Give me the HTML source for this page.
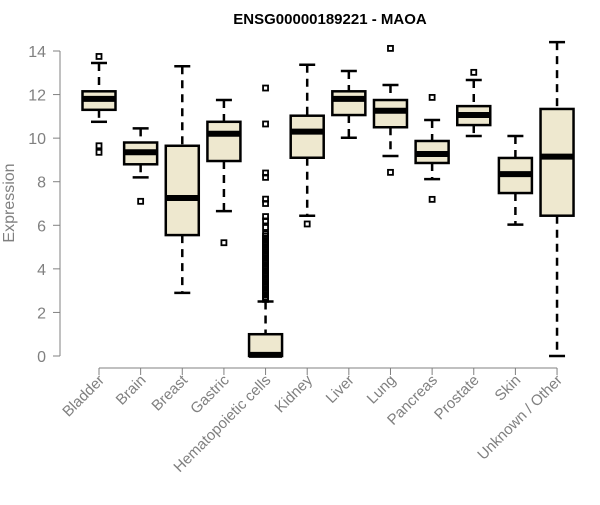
<!DOCTYPE html>
<html><head><meta charset="utf-8"><style>
body{margin:0;background:#fff}
svg text{font-family:"Liberation Sans",Arial,sans-serif}
</style></head><body>
<svg id="chart" width="600" height="500" xmlns="http://www.w3.org/2000/svg">
<text x="330" y="24" text-anchor="middle" font-size="15" font-weight="bold" fill="#000">ENSG00000189221 - MAOA</text>
<text transform="translate(14,203) rotate(-90)" text-anchor="middle" font-size="16" fill="#808080">Expression</text>
<g id="axes"></g><g id="boxes"></g>
</svg>
<script>
const categories=["Bladder","Brain","Breast","Gastric","Hematopoietic cells","Kidney","Liver","Lung","Pancreas","Prostate","Skin","Unknown / Other"];
const whiskerLow=[10.75,8.2,2.9,6.65,0,6.44,10.02,9.18,8.12,10.1,6.03,0];
const q1=[11.3,8.8,5.55,8.95,0,9.1,11.06,10.5,8.86,10.6,7.48,6.44];
const median=[11.8,9.35,7.25,10.2,0.05,10.3,11.8,11.26,9.27,11.06,8.35,9.15];
const q3=[12.15,9.8,9.65,10.75,1.0,11.03,12.15,11.75,9.87,11.47,9.09,11.34];
const whiskerHigh=[13.45,10.45,13.3,11.75,2.5,13.37,13.08,12.44,10.83,12.67,10.1,14.41];
const outliers=[[13.75,9.65,9.35],[7.1],[],[5.2],
 [12.3,10.65,8.4,8.2,7.2,7.0,6.4,6.2,5.9,5.6,5.5,5.4,5.3,5.2,5.1,5.0,4.9,4.8,4.7,4.6,4.5,4.4,4.3,4.2,4.1,4.0,3.9,3.8,3.7,3.6,3.5,3.4,3.3,3.2,3.1,3.0,2.9,2.8,2.7,2.6],
 [6.06],[],[14.12,8.43],[11.87,7.19],[13.02],[],[]];
const yTicks=[0,2,4,6,8,10,12,14];
const NS="http://www.w3.org/2000/svg";
const y=v=>356-v*(305/14);
const x=i=>99+i*41.64;
function mk(parent,tag,attrs){const e=document.createElementNS(NS,tag);for(const k in attrs)e.setAttribute(k,attrs[k]);parent.appendChild(e);return e;}
const axes=document.getElementById('axes'),boxes=document.getElementById('boxes');
let l=mk(axes,'line',{x1:60,x2:60,y1:y(14),y2:y(0),stroke:'#808080'});


yTicks.forEach(t=>{
 const tk=mk(axes,'line',{x1:53,x2:60,y1:y(t),y2:y(t),stroke:'#808080'});
 
 
 const tx=mk(axes,'text',{x:46,y:y(t)+6,'text-anchor':'end','font-size':16,fill:'#808080'});
 tx.textContent=t;
 
 
});
l=mk(axes,'line',{x1:x(0),x2:x(categories.length-1),y1:368,y2:368,stroke:'#808080'});


const hw=16.5;
categories.forEach((c,i)=>{
 const cx=x(i);
 const tk=mk(axes,'line',{x1:cx,x2:cx,y1:368,y2:375,stroke:'#808080'});
 
 
 const tx=mk(axes,'text',{'text-anchor':'end','font-size':15,fill:'#808080',transform:`translate(${cx+6},381) rotate(-45)`});
 tx.textContent=c;
 
 
 const g=mk(boxes,'g',{});
 
 
 mk(g,'line',{x1:cx,x2:cx,y1:y(whiskerHigh[i]),y2:y(q3[i]),stroke:'#000','stroke-width':2.5,'stroke-dasharray':'8,6'});
 mk(g,'line',{x1:cx,x2:cx,y1:y(q1[i]),y2:y(whiskerLow[i]),stroke:'#000','stroke-width':2.5,'stroke-dasharray':'8,6'});
 mk(g,'line',{x1:cx-8,x2:cx+8,y1:y(whiskerHigh[i]),y2:y(whiskerHigh[i]),stroke:'#000','stroke-width':2.5});
 mk(g,'line',{x1:cx-8,x2:cx+8,y1:y(whiskerLow[i]),y2:y(whiskerLow[i]),stroke:'#000','stroke-width':2.5});
 mk(g,'rect',{x:cx-hw,y:y(q3[i]),width:2*hw,height:Math.max(0,y(q1[i])-y(q3[i])),fill:'#EEE8CF',stroke:'#000','stroke-width':2.5});
 mk(g,'line',{x1:cx-hw,x2:cx+hw,y1:y(median[i]),y2:y(median[i]),stroke:'#000','stroke-width':6});
 outliers[i].forEach(v=>{
  const p=mk(g,'rect',{x:cx-2.5,y:y(v)-2.5,width:5,height:5,fill:'none',stroke:'#000','stroke-width':1.8});
  
  
 });
});
</script>
</body></html>
